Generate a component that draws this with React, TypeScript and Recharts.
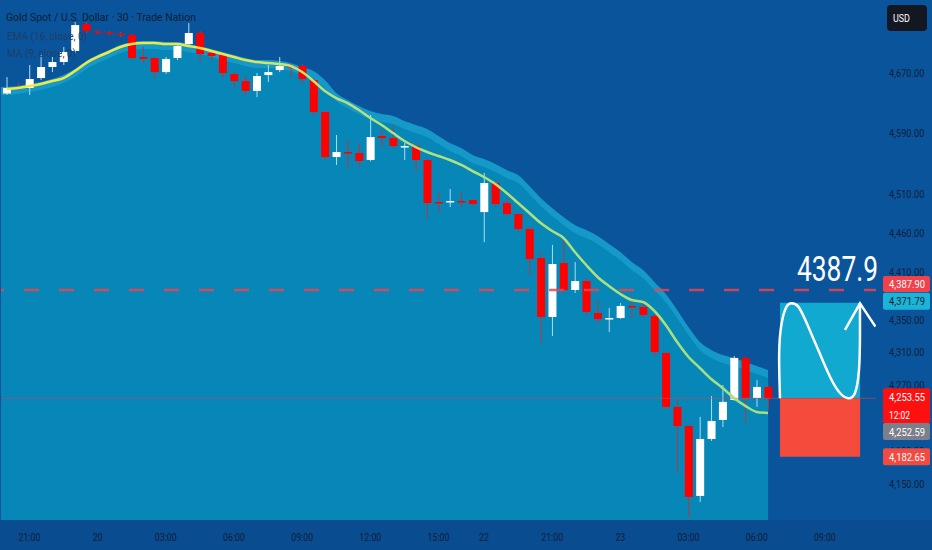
import React from 'react';
import { ComposedChart, Area, Bar, Line, XAxis, YAxis, ReferenceLine, ReferenceArea } from 'recharts';

// 30 min bars, [open, high, low, close]
const candles: [number, number, number, number][] = [
  [4642.6, 4664.6, 4640.6, 4650.0],
  [4651.3, 4656.6, 4647.3, 4650.0],
  [4650.0, 4680.8, 4640.6, 4662.0],
  [4663.3, 4694.3, 4660.6, 4678.1],
  [4678.1, 4691.6, 4671.3, 4684.8],
  [4684.8, 4705.1, 4680.8, 4698.3],
  [4699.7, 4738.9, 4697.0, 4734.8],
  [4736.1, 4738.9, 4724.0, 4726.7],
  [4726.0, 4728.0, 4722.6, 4724.0],
  [4724.6, 4726.7, 4721.3, 4722.6],
  [4723.3, 4725.3, 4718.5, 4721.3],
  [4721.3, 4722.6, 4687.5, 4690.2],
  [4691.6, 4705.1, 4683.5, 4688.9],
  [4690.2, 4691.6, 4663.3, 4671.3],
  [4671.3, 4691.6, 4668.6, 4688.9],
  [4690.2, 4710.5, 4687.5, 4706.4],
  [4709.1, 4737.5, 4706.4, 4724.0],
  [4724.0, 4726.7, 4684.8, 4695.6],
  [4697.0, 4701.0, 4687.5, 4692.9],
  [4694.3, 4697.0, 4663.3, 4670.0],
  [4668.6, 4671.3, 4650.0, 4659.3],
  [4659.3, 4666.0, 4640.6, 4646.0],
  [4646.0, 4670.0, 4637.9, 4666.0],
  [4667.3, 4680.8, 4658.0, 4671.3],
  [4674.0, 4691.6, 4671.3, 4679.4],
  [4679.4, 4683.5, 4664.6, 4677.4],
  [4679.4, 4682.1, 4656.6, 4662.0],
  [4660.6, 4663.3, 4614.0, 4618.0],
  [4618.0, 4620.6, 4554.8, 4558.7],
  [4558.7, 4587.6, 4548.3, 4565.3],
  [4565.3, 4581.0, 4544.3, 4563.3],
  [4563.9, 4577.1, 4545.6, 4553.5],
  [4554.8, 4614.0, 4553.0, 4585.0],
  [4586.3, 4594.2, 4571.8, 4583.6],
  [4583.6, 4600.8, 4570.5, 4573.1],
  [4571.8, 4577.1, 4554.8, 4573.1],
  [4573.1, 4578.4, 4539.1, 4554.8],
  [4554.8, 4556.1, 4478.3, 4498.9],
  [4500.2, 4513.1, 4486.0, 4498.3],
  [4500.2, 4517.0, 4493.7, 4501.5],
  [4501.5, 4513.1, 4493.7, 4499.5],
  [4502.8, 4504.1, 4495.0, 4497.6],
  [4487.2, 4537.8, 4448.7, 4524.8],
  [4524.8, 4527.4, 4493.7, 4497.6],
  [4498.9, 4505.4, 4482.1, 4484.7],
  [4484.7, 4487.2, 4461.5, 4465.4],
  [4465.4, 4468.0, 4406.8, 4427.1],
  [4428.4, 4436.0, 4321.6, 4354.0],
  [4354.0, 4445.0, 4330.3, 4420.7],
  [4422.0, 4453.9, 4384.1, 4387.9],
  [4387.9, 4423.3, 4384.1, 4399.2],
  [4399.2, 4403.0, 4356.5, 4360.3],
  [4359.0, 4375.3, 4346.5, 4351.5],
  [4351.5, 4365.3, 4335.3, 4352.7],
  [4352.7, 4371.5, 4351.5, 4367.8],
  [4367.8, 4379.1, 4352.7, 4365.9],
  [4366.5, 4375.3, 4354.0, 4356.5],
  [4355.2, 4357.8, 4304.3, 4310.4],
  [4309.2, 4310.4, 4239.3, 4243.0],
  [4243.0, 4251.5, 4163.3, 4219.8],
  [4219.8, 4221.1, 4110.0, 4134.7],
  [4135.9, 4230.8, 4128.7, 4204.1],
  [4204.1, 4256.4, 4201.7, 4225.9],
  [4227.1, 4269.8, 4218.6, 4249.1],
  [4251.5, 4305.5, 4250.3, 4303.1],
  [4303.1, 4304.3, 4223.5, 4253.9],
  [4253.9, 4275.9, 4243.0, 4267.4],
  [4267.4, 4268.6, 4239.3, 4253.55],
];

const maValues = [
  4648.6, 4650.0, 4652.6, 4655.3, 4659.3, 4663.3, 4672.7, 4683.5, 4691.6, 4698.3,
  4705.1, 4709.1, 4710.5, 4710.5, 4709.1, 4709.1, 4706.4, 4703.7, 4699.7, 4695.6,
  4691.6, 4687.5, 4684.8, 4683.5, 4682.1, 4679.4, 4671.3, 4659.3, 4646.0, 4636.6,
  4629.9, 4620.6, 4610.0, 4600.8, 4590.2, 4579.7, 4571.8, 4565.3, 4560.0, 4554.8,
  4548.3, 4540.4, 4532.6, 4523.5, 4511.8, 4498.9, 4486.0, 4473.1, 4462.8, 4453.9,
  4436.0, 4419.5, 4404.3, 4392.9, 4382.9, 4375.3, 4372.8, 4361.5, 4344.0, 4322.8,
  4304.3, 4290.7, 4277.1, 4266.1, 4253.9, 4244.2, 4236.9, 4235.7,
];

const cloudTop = [
  4651.3, 4652.6, 4655.3, 4658.0, 4662.0, 4667.3, 4675.4, 4686.2, 4694.3, 4701.0,
  4707.8, 4711.8, 4713.2, 4713.2, 4711.8, 4711.8, 4709.1, 4706.4, 4702.4, 4698.3,
  4694.3, 4690.2, 4687.5, 4687.5, 4686.2, 4683.5, 4678.1, 4672.7, 4660.6, 4643.3,
  4633.9, 4625.9, 4619.3, 4615.3, 4612.7, 4606.1, 4600.8, 4595.5, 4586.3, 4577.1,
  4570.5, 4561.4, 4556.1, 4549.6, 4541.7, 4535.2, 4520.9, 4505.4, 4492.4, 4480.8,
  4470.6, 4464.1, 4456.4, 4446.2, 4436.0, 4423.3, 4413.1, 4398.0, 4382.9, 4362.8,
  4341.5, 4322.8, 4312.9, 4306.7, 4303.1, 4298.1, 4293.1, 4288.2,
];

const cloudInner = [
  4640.6, 4642.0, 4644.6, 4647.3, 4651.3, 4656.6, 4664.6, 4675.4, 4683.5, 4690.2,
  4697.0, 4701.0, 4702.4, 4702.4, 4701.0, 4701.0, 4698.3, 4695.6, 4691.6, 4687.5,
  4683.5, 4679.4, 4676.7, 4676.7, 4675.4, 4672.7, 4667.3, 4662.0, 4650.0, 4632.6,
  4623.3, 4615.3, 4608.7, 4604.7, 4602.1, 4595.5, 4590.2, 4585.0, 4575.8, 4566.6,
  4560.0, 4550.9, 4545.6, 4539.1, 4531.3, 4524.8, 4510.5, 4495.0, 4482.1, 4470.6,
  4460.3, 4453.9, 4446.2, 4436.0, 4425.8, 4413.1, 4403.0, 4387.9, 4372.8, 4352.7,
  4331.5, 4312.9, 4303.1, 4296.9, 4293.1, 4288.2, 4283.3, 4278.4,
];

// bar slots incl. empty future space on the right
const SLOTS = 77;

const xTickLabels: [number, string][] = [
  [2, '21:00'], [8, '20'], [14, '03:00'], [20, '06:00'], [26, '09:00'], [32, '12:00'], [38, '15:00'],
  [42, '22'], [48, '21:00'], [54, '23'], [60, '03:00'], [66, '06:00'], [72, '09:00'],
];

const yTicks = [4150, 4190, 4270, 4310, 4350, 4410, 4460, 4510, 4590, 4670];

// projection drawing (bar index, price)
const waveX = [68.05, 67.98, 68.2, 68.63, 69.08, 69.66, 70.4, 71.42, 72.45, 73.33, 74.06, 74.65, 75.0, 75.09, 75.09];
const waveY = [4253.6, 4309, 4346.5, 4367, 4371.1, 4367, 4346.5, 4313, 4280, 4260, 4253.6, 4260, 4288, 4329.5, 4371.1];
const arrowX = [73.77, 75.09, 76.45];
const arrowY = [4337.8, 4371.1, 4342];

const targetPrice = 4387.9;
const lastPrice = 4253.55;
const bidPrice = 4252.59;
const boxTop = 4371.79;
const boxBottom = 4182.65;
const Y_MIN = 4107.4;
const Y_MAX = 4769;

const data = Array.from({ length: SLOTS }, (_, i) => {
  const c = candles[i];
  return {
    i,
    o: c ? c[0] : null,
    h: c ? c[1] : null,
    l: c ? c[2] : null,
    c: c ? c[3] : null,
    ma: maValues[i] ?? null,
    top: cloudTop[i] ?? null,
    inner: cloudInner[i] ?? null,
  };
});
const waveData = waveX.map((x, k) => ({ x, y: waveY[k] }));
const arrowData = arrowX.map((x, k) => ({ x, y: arrowY[k] }));
const labelAt = new Map(xTickLabels);

const fmt = (v: number) => v.toLocaleString('en-US', { minimumFractionDigits: 2, maximumFractionDigits: 2 });

const Candle = (props: any) => {
  const { x, y, width, height, payload } = props;
  if (!payload || payload.o == null) return null;
  const { o, h, l, c } = payload;
  const top = Math.min(y, y + height);
  const span = Math.abs(height);
  const lh = Math.log(h);
  const ll = Math.log(l);
  const py = (v: number) => top + (span * (lh - Math.log(v))) / (lh - ll);
  const up = c >= o;
  const yo = py(o);
  const yc = py(c);
  const bTop = Math.min(yo, yc);
  const bH = Math.max(Math.abs(yo - yc), 1.5);
  const cx = x + width / 2;
  return (
    <g>
      <line x1={cx} x2={cx} y1={top} y2={top + span} stroke={up ? '#a9def3' : '#b03a44'} strokeWidth={1} />
      <rect x={x} y={bTop} width={width} height={bH} fill={up ? '#ffffff' : '#ff0000'} />
    </g>
  );
};

const XTick = (props: any) => {
  const { x, y, payload } = props;
  const t = labelAt.get(payload.value);
  if (!t) return <g />;
  return (
    <text x={0} y={0} transform={`translate(${x},${y + 13}) scale(0.8,1)`} textAnchor="middle" fontSize={11} fill="#0d2038">
      {t}
    </text>
  );
};

const YTick = (props: any) => {
  const { x, y, payload } = props;
  return (
    <text x={0} y={0} transform={`translate(${x + 5},${y + 4}) scale(0.84,1)`} fontSize={11} fill="#0d2038">
      {fmt(payload.value)}
    </text>
  );
};

const PriceTag = ({ viewBox, lines, fill, color, shift, rowH }: any) => {
  if (!viewBox) return null;
  const x = viewBox.x + viewBox.width + 7;
  const top = viewBox.y + shift;
  return (
    <g>
      <rect x={x} y={top} width={47} height={rowH * lines.length} fill={fill} rx={2} />
      {lines.map((t: string, k: number) => (
        <text
          key={k}
          x={x + 6}
          y={top + rowH * k + rowH / 2 + 4}
          fontSize={11}
          fill={color}
          textLength={t.length > 5 ? 36 : 21}
          lengthAdjust="spacingAndGlyphs"
        >
          {t}
        </text>
      ))}
    </g>
  );
};

const TargetLabel = ({ viewBox }: any) => {
  if (!viewBox) return null;
  const right = viewBox.x + viewBox.width;
  return (
    <g>
      <text x={right - 79} y={viewBox.y - 9} fontSize={35} fill="#ffffff" textLength={81} lengthAdjust="spacingAndGlyphs">
        {String(targetPrice)}
      </text>
      <PriceTag viewBox={viewBox} lines={[fmt(targetPrice)]} fill="#f2414b" color="#ffffff" shift={-14} rowH={16} />
    </g>
  );
};

export default function App() {
  return (
    <div style={{ position: 'absolute', left: 0, top: 0, width: 932, height: 550, background: '#0a549c', overflow: 'hidden', fontFamily: 'Roboto, sans-serif' }}>
      <div style={{ position: 'absolute', left: 0, top: 520, width: 932, height: 30, background: '#094c90' }} />
      <div style={{ position: 'absolute', left: 0, top: 0 }}>
        <ComposedChart width={932} height={550} data={data} margin={{ top: 0, right: 0, bottom: 0, left: 1 }}>
          <defs>
            <linearGradient id="maStroke" x1="0" y1="0" x2="1" y2="0">
              <stop offset="0%" stopColor="#f4e93c" />
              <stop offset="28%" stopColor="#ece84a" />
              <stop offset="42%" stopColor="#b4e27c" />
              <stop offset="100%" stopColor="#a4df80" />
            </linearGradient>
          </defs>
          <XAxis dataKey="i" interval={0} axisLine={false} tickLine={false} height={30} tick={<XTick />} />
          <XAxis xAxisId="num" type="number" dataKey="x" domain={[-0.5, SLOTS - 0.5]} allowDataOverflow hide />
          <YAxis
            orientation="right"
            scale="log"
            domain={[Y_MIN, Y_MAX]}
            allowDataOverflow
            ticks={yTicks}
            interval={0}
            width={56}
            axisLine={false}
            tickLine={false}
            tick={<YTick />}
          />
          {/* fill the half slot left of the first bar */}
          <ReferenceArea xAxisId="num" x1={-0.5} x2={0} y1={cloudInner[0]} y2={cloudTop[0]} fill="#1599c9" fillOpacity={1} stroke="none" />
          <ReferenceArea xAxisId="num" x1={-0.5} x2={0} y1={Y_MIN} y2={cloudInner[0]} fill="#0787b8" fillOpacity={1} stroke="none" />
          <Area dataKey="top" type="monotone" stroke="none" fill="#1599c9" fillOpacity={1} baseValue="dataMin" isAnimationActive={false} />
          <Area dataKey="inner" type="monotone" stroke="none" fill="#0787b8" fillOpacity={1} baseValue="dataMin" isAnimationActive={false} />
          <ReferenceLine y={lastPrice} stroke="#c8485c" strokeOpacity={0.6} strokeWidth={1} />
          <ReferenceLine y={targetPrice} stroke="#f0434b" strokeOpacity={0.85} strokeWidth={2.5} strokeDasharray="15 20" strokeDashoffset={3} />
          <Line dataKey="ma" type="monotone" stroke="url(#maStroke)" strokeWidth={2.5} dot={false} isAnimationActive={false} />
          <Bar dataKey={(d: any) => (d.o == null ? null : [d.l, d.h])} barSize={8} shape={(p: any) => <Candle {...p} />} isAnimationActive={false} />
          <ReferenceArea xAxisId="num" x1={68.05} x2={75.1} y1={lastPrice} y2={boxTop} fill="#12a9d1" fillOpacity={1} stroke="none" />
          <ReferenceArea xAxisId="num" x1={68.05} x2={75.1} y1={boxBottom} y2={lastPrice} fill="#f44b3c" fillOpacity={1} stroke="none" />
          <Line xAxisId="num" data={waveData} dataKey="y" type="natural" stroke="#ffffff" strokeWidth={2.5} dot={false} isAnimationActive={false} />
          <Line xAxisId="num" data={arrowData} dataKey="y" type="linear" stroke="#ffffff" strokeWidth={2.5} dot={false} isAnimationActive={false} />
          {/* axis price tags, kept above the tick labels */}
          <ReferenceLine y={lastPrice} stroke="none" zIndex={2000}
            label={(p: any) => <PriceTag viewBox={p.viewBox} lines={[fmt(lastPrice), '12:02']} fill="#ff1010" color="#ffffff" shift={-10} rowH={17.5} />} />
          <ReferenceLine y={bidPrice} stroke="none" zIndex={2000}
            label={(p: any) => <PriceTag viewBox={p.viewBox} lines={[fmt(bidPrice)]} fill="#7b7f8b" color="#ffffff" shift={24} rowH={17} />} />
          <ReferenceLine y={boxTop} stroke="none" zIndex={2000}
            label={(p: any) => <PriceTag viewBox={p.viewBox} lines={[fmt(boxTop)]} fill="#1cb4d6" color="#0b1e36" shift={-10} rowH={17} />} />
          <ReferenceLine y={boxBottom} stroke="none" zIndex={2000}
            label={(p: any) => <PriceTag viewBox={p.viewBox} lines={[fmt(boxBottom)]} fill="#f24a40" color="#ffffff" shift={-8.5} rowH={17} />} />
          <ReferenceLine y={targetPrice} stroke="none" zIndex={2000}
            label={(p: any) => <TargetLabel viewBox={p.viewBox} />} />
        </ComposedChart>
      </div>
      <svg width={932} height={550} style={{ position: 'absolute', left: 0, top: 0, pointerEvents: 'none' }}>
        <text x={6} y={20.5} fontSize={11.5} fill="#0c1d33" textLength={190} lengthAdjust="spacingAndGlyphs">
          Gold Spot / U.S. Dollar · 30 · Trade Nation
        </text>
        <text x={7} y={40} fontSize={11.5} fill="#1d3f68" textLength={80} lengthAdjust="spacingAndGlyphs">
          EMA (16, close, 0)
        </text>
        <text x={7} y={57} fontSize={11.5} fill="#1d3f68" textLength={69} lengthAdjust="spacingAndGlyphs">
          MA (9, close, 0)
        </text>
        <rect x={887} y={5} width={40} height={26} rx={4} fill="#131722" />
        <text x={893} y={22} fontSize={10.5} fill="#ffffff" textLength={17} lengthAdjust="spacingAndGlyphs">
          USD
        </text>
      </svg>
    </div>
  );
}
